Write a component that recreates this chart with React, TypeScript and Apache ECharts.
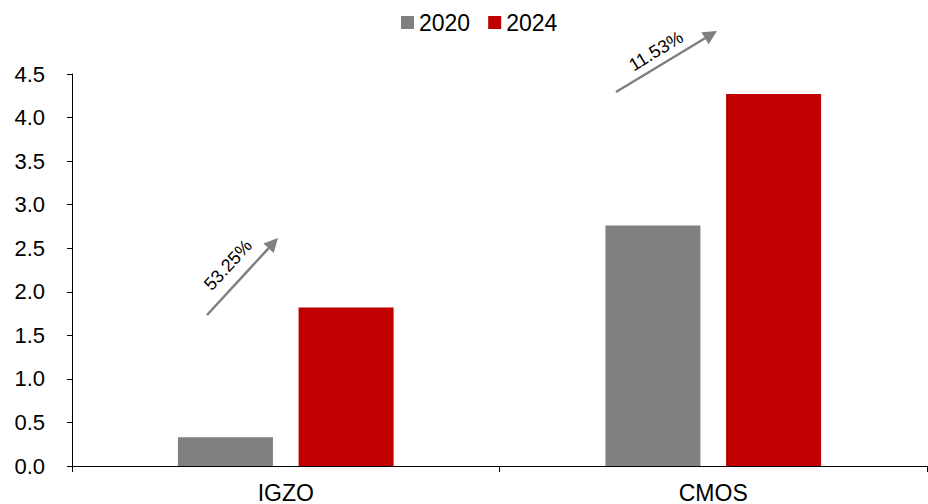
import React, { useEffect, useRef } from "react";
import * as echarts from "echarts";

const categories = ["IGZO", "CMOS"];
const series2020 = [0.33, 2.76];
const series2024 = [1.82, 4.27];
const seriesNames = ["2020", "2024"];
const growthLabels = ["53.25%", "11.53%"];
const yTicks = { min: 0, max: 4.5, interval: 0.5 };

export default function App() {
  const ref = useRef<HTMLDivElement>(null);
  useEffect(() => {
    document.body.style.margin = "0";
    if (!ref.current) return;
    const chart = echarts.init(ref.current, null, { renderer: "svg" });
    const font = "'Liberation Sans', Arial, sans-serif";
    const arrowColor = "#808080";
    const arrow = (x1: number, y1: number, x2: number, y2: number) => {
      const ang = Math.atan2(y2 - y1, x2 - x1);
      const len = 14;
      const half = 7;
      const bx = x2 - len * Math.cos(ang);
      const by = y2 - len * Math.sin(ang);
      const px = -Math.sin(ang);
      const py = Math.cos(ang);
      return [
        {
          type: "line",
          shape: { x1, y1, x2: bx, y2: by },
          style: { stroke: arrowColor, lineWidth: 2.5 },
        },
        {
          type: "polygon",
          shape: {
            points: [
              [x2, y2],
              [bx + px * half, by + py * half],
              [bx - px * half, by - py * half],
            ],
          },
          style: { fill: arrowColor },
        },
      ];
    };
    chart.setOption({
      animation: false,
      textStyle: { fontFamily: font },
      legend: {
        data: seriesNames,
        top: 11,
        left: 401,
        padding: 0,
        itemWidth: 13,
        itemHeight: 13,
        itemGap: 18,
        icon: "rect",
        textStyle: { fontSize: 23, color: "#000", fontFamily: font },
      },
      grid: { left: 72, right: 1, top: 74, bottom: 38, containLabel: false },
      xAxis: {
        type: "category",
        data: categories,
        axisLine: { lineStyle: { color: "#000", width: 1 } },
        axisTick: { show: true, length: 6, lineStyle: { color: "#000" } },
        axisLabel: { fontSize: 23, color: "#000", margin: 15, fontFamily: font },
      },
      yAxis: {
        type: "value",
        min: yTicks.min,
        max: yTicks.max,
        interval: yTicks.interval,
        splitLine: { show: false },
        axisLine: { show: true, lineStyle: { color: "#000", width: 1 } },
        axisTick: { show: true, length: 5, lineStyle: { color: "#000" } },
        axisLabel: {
          fontSize: 22,
          color: "#000",
          margin: 27,
          fontFamily: font,
          formatter: (v: number) => v.toFixed(1),
        },
      },
      series: [
        {
          name: seriesNames[0],
          type: "bar",
          data: series2020,
          barWidth: 95,
          barGap: "27%",
          itemStyle: { color: "#808080" },
        },
        {
          name: seriesNames[1],
          type: "bar",
          data: series2024,
          barWidth: 95,
          itemStyle: { color: "#C00000" },
        },
      ],
      graphic: [
        ...arrow(207, 315, 278, 238),
        {
          type: "text",
          x: 228,
          y: 265,
          rotation: (47.5 * Math.PI) / 180,
          style: {
            text: growthLabels[0],
            fontSize: 18,
            fontFamily: font,
            fill: "#000",
            align: "center",
            verticalAlign: "middle",
          },
        },
        ...arrow(616, 92, 717, 31),
        {
          type: "text",
          x: 656,
          y: 51,
          rotation: (31.3 * Math.PI) / 180,
          style: {
            text: growthLabels[1],
            fontSize: 18,
            fontFamily: font,
            fill: "#000",
            align: "center",
            verticalAlign: "middle",
          },
        },
      ],
    });
    return () => chart.dispose();
  }, []);
  return <div ref={ref} style={{ width: 928, height: 504 }} />;
}
